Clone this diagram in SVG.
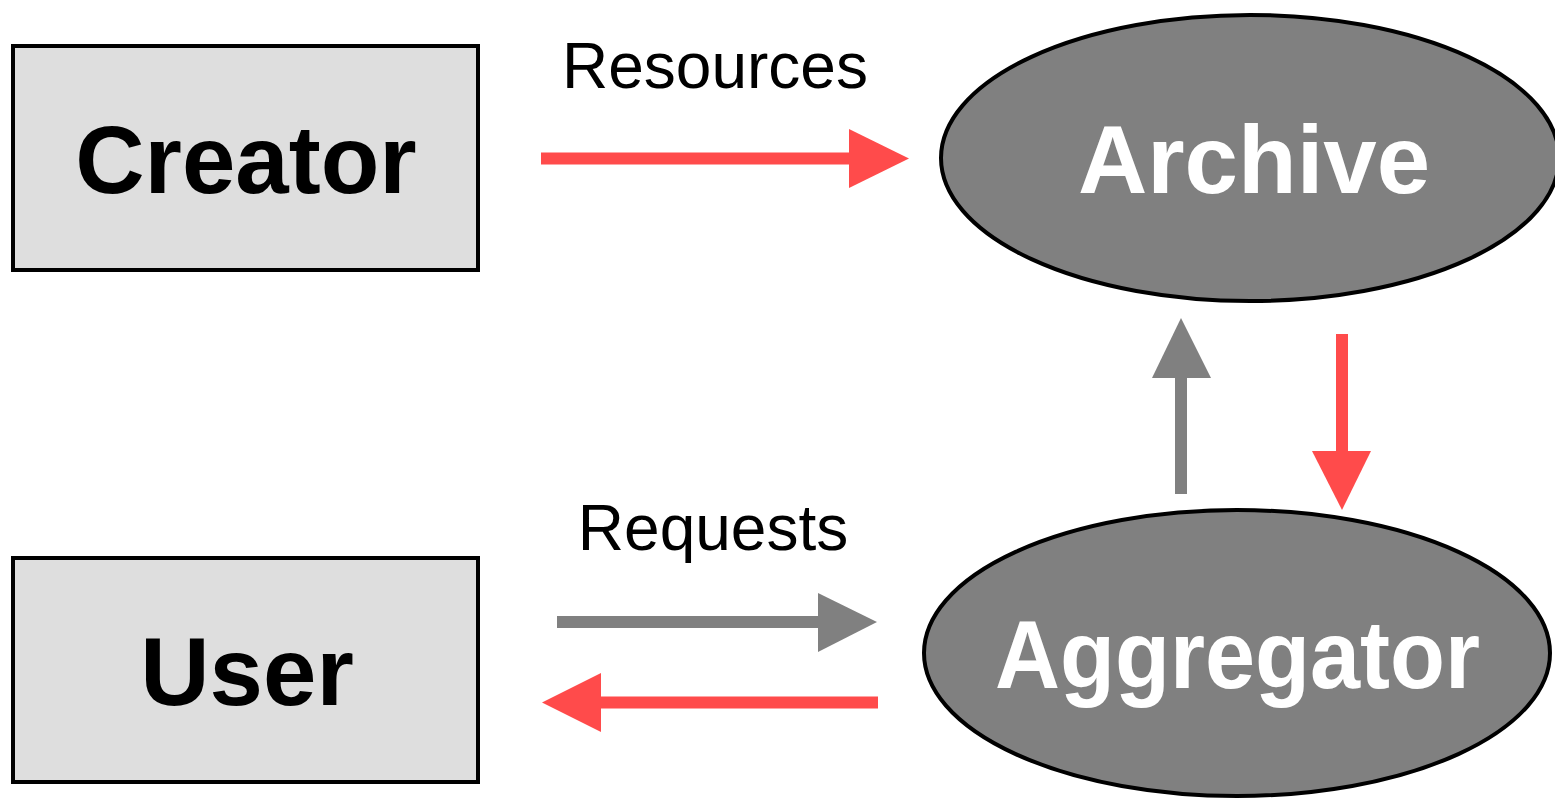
<svg xmlns="http://www.w3.org/2000/svg" width="1555" height="799" viewBox="0 0 1555 799">
<style>
.box{fill:#dedede;stroke:#000;stroke-width:4}
.ell{fill:#808080;stroke:#000;stroke-width:4}
.bt{font-family:"Liberation Sans",Arial,sans-serif;font-weight:bold;font-size:96px;text-anchor:middle}
.lbl{font-family:"Liberation Sans",Arial,sans-serif;font-size:64px;text-anchor:middle;fill:#000}
.red{fill:#ff4b4b}
.gray{fill:#808080}
</style>
<rect width="1555" height="799" fill="#fff"/>
<g id="creator">
<rect class="box" x="13" y="46" width="465" height="224"/>
<text class="bt" x="246" y="193" fill="#000">Creator</text>
</g>
<g id="user">
<rect class="box" x="13" y="558" width="465" height="224"/>
<text class="bt" x="247" y="705" fill="#000">User</text>
</g>
<g id="archive">
<ellipse class="ell" cx="1250" cy="158" rx="309" ry="143"/>
<text class="bt" x="1254" y="193" fill="#fff">Archive</text>
</g>
<g id="aggregator">
<ellipse class="ell" cx="1237" cy="653" rx="313" ry="143"/>
<text class="bt" x="1237.5" y="688" fill="#fff" textLength="485" lengthAdjust="spacingAndGlyphs">Aggregator</text>
</g>
<g id="connectors">
<rect class="red" x="541" y="152.5" width="310" height="12"/>
<polygon class="red" points="849,129 909,158.5 849,188"/>
<rect class="gray" x="557" y="616" width="262" height="12"/>
<polygon class="gray" points="818,593 877,622 818,652"/>
<rect class="red" x="600" y="696.5" width="278" height="12"/>
<polygon class="red" points="601,673 542,702.5 601,732"/>
<rect class="gray" x="1175" y="377" width="12" height="117"/>
<polygon class="gray" points="1152,378 1181,318 1211,378"/>
<rect class="red" x="1336" y="334" width="12" height="118"/>
<polygon class="red" points="1312,451 1342,510 1371,451"/>
</g>
<g id="labels">
<text class="lbl" x="715" y="88">Resources</text>
<text class="lbl" x="713" y="550">Requests</text>
</g>
</svg>
